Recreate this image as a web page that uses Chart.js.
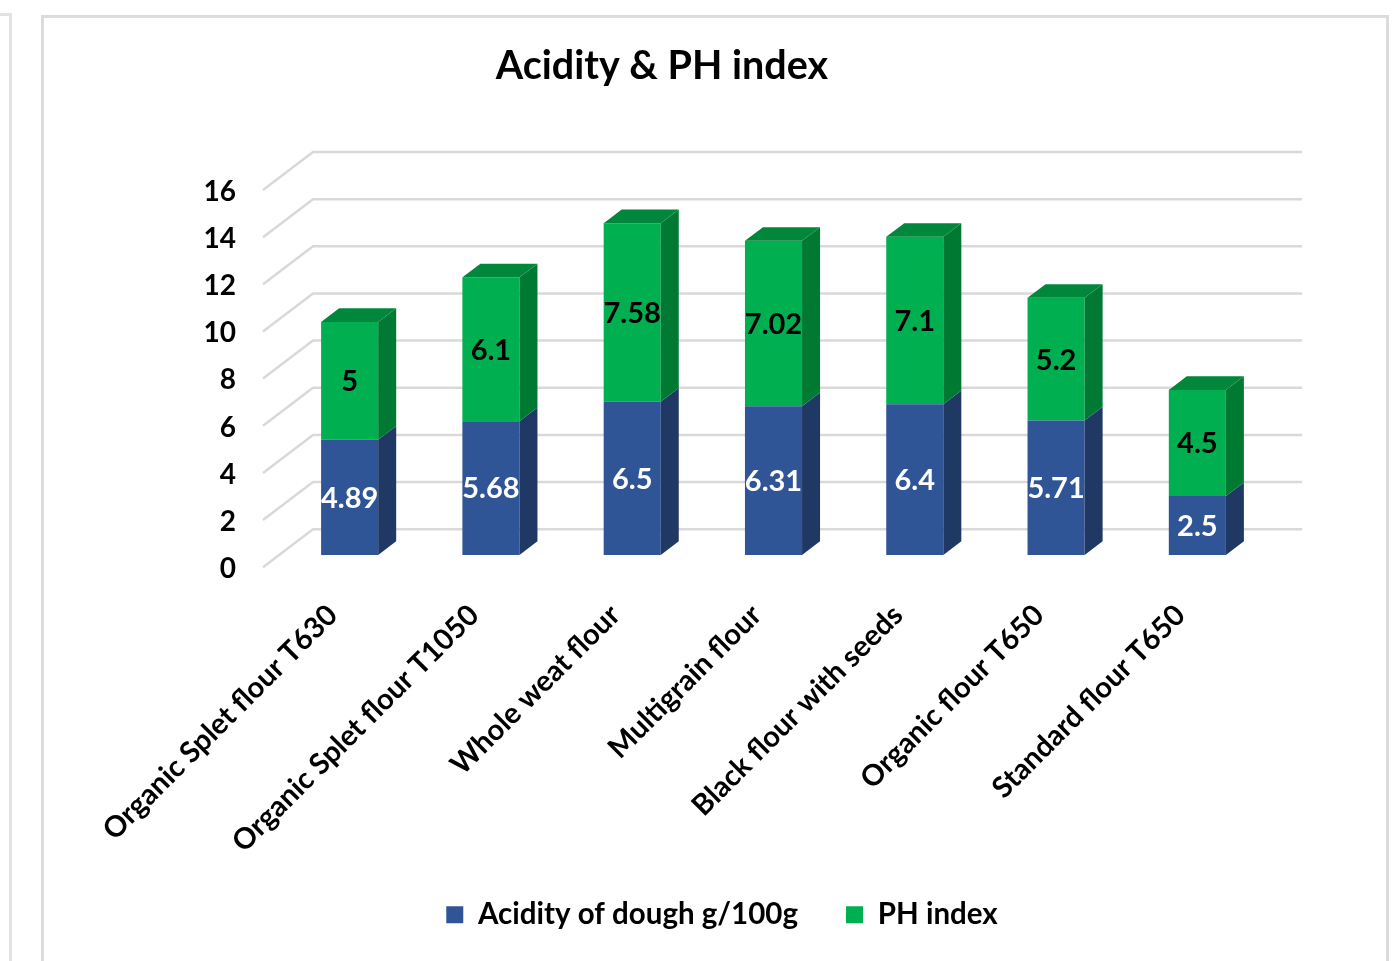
<!DOCTYPE html>
<html>
<head>
<meta charset="utf-8">
<title>Acidity & PH index</title>
<script src="https://cdn.jsdelivr.net/npm/chart.js@4.4.0/dist/chart.umd.min.js"></script>
<style>
  html, body { margin: 0; padding: 0; background: #fff; overflow: hidden; }
  #sidePanel { position: absolute; left: -12px; top: 13px; width: 18px; height: 1000px; border: 3px solid #e3e3e3; }
  #frame { position: absolute; left: 41px; top: 15px; width: 1342px; height: 960px; border: 3px solid #dcdcdc; border-bottom: none; }
</style>
</head>
<body>
<div id="sidePanel"></div>
<div id="frame">
  <canvas id="acidityChart" width="1342" height="943"></canvas>
</div>
<script>
// ----- DATA -----
const flours = [
  'Organic Splet flour T630',
  'Organic Splet flour T1050',
  'Whole weat flour',
  'Multigrain flour',
  'Black flour with seeds',
  'Organic flour T650',
  'Standard flour T650'
];
const acidity = [4.89, 5.68, 6.5, 6.31, 6.4, 5.71, 2.5];
const phIndex = [5, 6.1, 7.58, 7.02, 7.1, 5.2, 4.5];
const yTicks = [0, 2, 4, 6, 8, 10, 12, 14, 16];

// ----- COLOURS -----
const blue = {front: '#2F5597', side: '#203864', top: '#26477F'};
const green = {front: '#00B050', side: '#007A33', top: '#00873C'};

// ----- 3D LOOK -----
const SLOPE = -0.76;      // dy per dx of the depth direction
const WALL_BACK = 34;     // back wall offset from bar front plane
const WALL_FRONT = -16;   // front edge of the floor / side wall
const BAR_DEPTH = 18;     // depth of each bar
const LEGEND_SHIFT = 66;  // excel centres the legend under the plot, not the title
const TITLE_SHIFT = 6;

const depthPlugin = {
  id: 'depth3d',
  afterLayout(chart) {
    chart.legend.left += LEGEND_SHIFT;
    chart.legend.right += LEGEND_SHIFT;
    chart.titleBlock.left += TITLE_SHIFT;
    chart.titleBlock.right += TITLE_SHIFT;
    // rotated labels may run a bit into the legend band, don't clip them
    chart.scales.x.bottom = chart.height;
  },
  beforeDatasetsDraw(chart) {
    const {ctx, chartArea, scales: {y}} = chart;
    ctx.save();
    ctx.strokeStyle = '#d9d9d9';
    ctx.lineWidth = 2.5;
    y.ticks.forEach(t => {
      const py = y.getPixelForValue(t.value);
      const by = py + WALL_BACK * SLOPE;
      ctx.beginPath();
      ctx.moveTo(chartArea.left + WALL_FRONT, py + WALL_FRONT * SLOPE);
      ctx.lineTo(chartArea.left + WALL_BACK, by);
      ctx.lineTo(chartArea.right + WALL_BACK, by);
      ctx.stroke();
    });
    ctx.restore();
  },
  afterDatasetsDraw(chart) {
    const {ctx} = chart;
    const dx = BAR_DEPTH, dy = BAR_DEPTH * SLOPE;
    const last = chart.data.datasets.length - 1;
    ctx.save();
    chart.data.datasets.forEach((ds, di) => {
      const meta = chart.getDatasetMeta(di);
      meta.data.forEach(bar => {
        const {x, y, base, width} = bar.getProps(['x', 'y', 'base', 'width'], true);
        const l = x - width / 2, r = x + width / 2;
        // side face
        ctx.fillStyle = ds.faces.side;
        ctx.beginPath();
        ctx.moveTo(r, y);
        ctx.lineTo(r + dx, y + dy);
        ctx.lineTo(r + dx, base + dy);
        ctx.lineTo(r, base);
        ctx.closePath();
        ctx.fill();
        // top face only on the top of the stack
        if (di === last) {
          ctx.fillStyle = ds.faces.top;
          ctx.beginPath();
          ctx.moveTo(l, y);
          ctx.lineTo(l + dx, y + dy);
          ctx.lineTo(r + dx, y + dy);
          ctx.lineTo(r, y);
          ctx.closePath();
          ctx.fill();
        }
      });
    });
    // value labels
    ctx.font = '700 29px Lato';
    ctx.textAlign = 'center';
    ctx.textBaseline = 'middle';
    chart.data.datasets.forEach((ds, di) => {
      const meta = chart.getDatasetMeta(di);
      ctx.fillStyle = ds.labelColor;
      meta.data.forEach((bar, i) => {
        const {x, y, base} = bar.getProps(['x', 'y', 'base'], true);
        ctx.fillText(String(ds.data[i]), x, (y + base) / 2 + 1);
      });
    });
    ctx.restore();
  }
};

const ctx = document.getElementById('acidityChart').getContext('2d');
new Chart(ctx, {
  type: 'bar',
  data: {
    labels: flours,
    datasets: [
      {label: 'Acidity of dough g/100g', data: acidity, backgroundColor: blue.front, faces: blue, labelColor: '#ffffff'},
      {label: 'PH index', data: phIndex, backgroundColor: green.front, faces: green, labelColor: '#000000'}
    ]
  },
  options: {
    responsive: false,
    animation: false,
    categoryPercentage: 1,
    barPercentage: 0.404,
    layout: {padding: {left: 0, right: 118, top: 0, bottom: 21.5}},
    plugins: {
      title: {
        display: true,
        text: 'Acidity & PH index',
        color: '#000',
        font: {family: 'Lato', weight: '700', size: 39.5},
        padding: {top: 24.5, bottom: 88}
      },
      legend: {
        position: 'bottom',
        labels: {
          color: '#000',
          font: {family: 'Lato', weight: '700', size: 29.5},
          boxWidth: 17,
          boxHeight: 17,
          padding: 48
        }
      },
      tooltip: {enabled: false}
    },
    scales: {
      x: {
        stacked: true,
        grid: {display: false, drawTicks: false},
        border: {display: false},
        ticks: {
          autoSkip: false,
          minRotation: 45,
          maxRotation: 45,
          padding: 43,
          labelOffset: -17,
          color: '#000',
          font: {family: 'Lato', weight: '700', size: 29}
        },
        afterFit(scale) { scale.height = 297; }
      },
      y: {
        stacked: true,
        min: yTicks[0],
        max: yTicks[yTicks.length - 1],
        grid: {display: false, drawTicks: false},
        border: {display: false},
        ticks: {
          stepSize: yTicks[1] - yTicks[0],
          padding: 43,
          labelOffset: 14,
          color: '#000',
          font: {family: 'Lato', weight: '700', size: 28}
        },
        afterFit(scale) { scale.width = 235; }
      }
    }
  },
  plugins: [depthPlugin]
});
</script>
</body>
</html>
